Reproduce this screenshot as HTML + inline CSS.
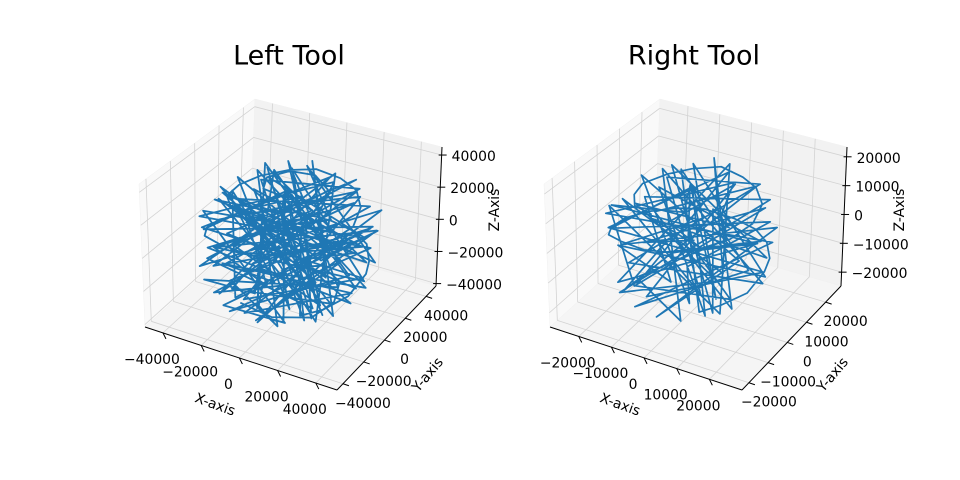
<!DOCTYPE html>
<html><head><meta charset="utf-8"><style>
html,body{margin:0;padding:0;background:#fff;}
svg{display:block;font-family:"DejaVu Sans","Liberation Sans",sans-serif;}
</style></head><body>
<svg id="chart" width="960" height="480" viewBox="0 0 960 480" xmlns="http://www.w3.org/2000/svg">
<rect width="960" height="480" fill="#fff"/>
</svg>
<script>
// ---- data (thousands) ----
const leftX=[12,-25,30,-8,-33,20,5,-28,35,-10,18,-30,8,-20,28,-5,33,-35,10,-15,25,-22,3,-38,30,-12,15,-25,36,-5,22,-30,0,-18,28,-35,12,-8,32,-20,5,-28,35,-15,20,-32,10,-3,30,-38,18,-22,25,-10,38,-30,8,-18,15,-35,28,-5,33,-25,0,-33,22,-12,35,-20,10,-28,30,-8,18,-38,25,-15,38,-25,5,-30,15,-10,32,-35,20,-18,28,-5,35,-28,12,-22,30,-38,8,-15,25,-30,0,36,-20,15,-33,22,-8,30,-25,10,-36,20,-12,38,-22,5,-30,28,-10,33,-18,15,-35,25,-5,30,-28,12,-38,20,
20,28,34,36,32,25,14,0,-14,-26,-34,-38,-36,-30,-18,-4,10,22,30,34,30,22,10,-4,-16,-26,-30,-28,-20,-8,6,16,20,16,6,-6,-12,-8,4,12,2,-10,-16,-10,4,18,24,20,8,-6];
const leftY=[-30,10,22,-35,5,-10,32,-20,-5,25,28,-15,-22,30,-25,10,12,-8,-38,-18,30,-30,20,12,-15,35,-5,22,8,-30,-28,25,38,-10,20,-18,15,-38,-18,28,-12,-28,15,20,-35,8,30,-25,28,-2,-20,35,-30,-15,0,15,-35,-32,35,22,-8,28,-25,-20,10,30,25,-38,10,5,-28,-5,-20,38,8,-15,32,-28,-12,28,-40,-25,20,15,-28,10,-15,38,15,-20,-10,18,38,-35,5,5,-25,25,-35,-10,30,18,-25,-30,-20,32,-5,-22,35,5,-12,25,-35,-5,15,-38,28,-12,32,22,-22,-40,0,15,-32,32,-32,-10,18,-25,
-25,-18,-5,8,18,28,35,38,35,28,16,2,-12,-24,-32,-36,-34,-28,-16,-2,12,22,28,30,26,18,6,-8,-18,-24,-24,-18,-6,6,12,10,0,-10,-12,-26,-20,-10,4,18,24,16,0,-14,-30,-34];
const leftZ=[20,-28,5,-15,18,-35,25,-12,15,-30,-18,25,33,8,-10,38,-20,-10,0,32,12,-20,-36,2,25,-8,-38,25,-5,28,18,-15,10,-35,-25,8,35,-8,-15,-25,40,15,12,-35,-12,25,-28,-33,0,-15,32,5,-20,38,10,-28,22,-18,15,-8,-30,32,5,30,-40,10,25,5,-22,35,-30,-30,22,-12,38,12,-15,-30,0,20,-5,-18,-35,38,-10,-20,35,-5,28,-38,18,-25,5,10,-30,15,35,-32,8,30,-30,8,-30,-25,20,-10,40,-20,-10,-40,-15,30,22,-12,33,-15,-18,30,25,-15,35,5,-25,-32,-25,10,-5,38,-5,28,
-22,-20,-18,-12,-12,-10,-10,-10,-8,-6,-4,0,4,8,12,14,16,18,20,22,24,26,26,26,24,22,22,24,26,28,28,30,32,34,36,36,36,36,36,-28,-34,-36,-34,-30,-28,-28,-28,-30,-24,-18];
const rightX=[10,-18,15,-5,-20,12,0,-15,20,-8,8,-18,5,-12,16,-3,18,-20,6,-8,14,-12,2,-21,16,-6,8,-14,20,-2,12,-16,0,-10,15,-19,6,-4,18,-11,3,-15,19,-8,11,-18,5,-2,17,-21,10,-12,14,-5,21,-16,4,-10,8,-19,15,-3,18,-14,0,-18,12,-6,19,-11,6,-15,17,-4,10,-21,14,-8,21,-13,
11,15,19,20,18,14,8,0,-8,-14,-19,-21,-20,-17,-10,-2,6,12,17,19,17,12,6,-2,-9,-14,-17,-15,-11,-4];
const rightY=[-15,5,12,-20,-8,-5,18,-12,0,15,18,-10,-12,18,-14,5,8,-4,-20,-10,16,-16,10,6,-8,20,-2,12,5,-16,-15,14,21,-6,12,-10,8,-21,-10,16,-6,-15,8,11,-19,4,16,-14,15,-1,-11,19,-16,-8,0,8,-19,-17,19,12,-4,15,-14,-11,5,16,14,-21,5,3,-15,-3,-11,21,4,-8,18,-15,-6,15,
-14,-10,-3,4,10,15,19,21,19,15,9,1,-7,-13,-18,-20,-19,-15,-9,-1,7,12,15,17,14,10,3,-4,-10,-13];
const rightZ=[12,-10,8,-5,10,-18,15,-12,5,-16,-10,12,18,4,-6,22,-12,-6,0,18,8,-12,-20,2,14,-4,-21,14,-3,16,10,-8,6,-19,-14,4,20,-4,-8,-14,22,8,7,-19,-6,14,-16,-18,0,-8,17,3,-11,21,6,-15,12,-10,9,-4,-16,18,3,16,-22,6,14,3,-12,19,-16,-16,12,-6,20,7,-8,-16,0,11,
-12,-11,-10,-7,-7,-6,-6,-6,-4,-3,-2,0,2,4,7,8,9,10,11,12,13,14,14,14,13,12,12,13,14,15];
const xTicks=[[-40000,-20000,0,20000,40000],[-20000,-10000,0,10000,20000]];
const yTicks=[[-40000,-20000,0,20000,40000],[-20000,-10000,0,10000,20000]];
const zTicks=[[-40000,-20000,0,20000,40000],[-20000,-10000,0,10000,20000]];
const titles=["Left Tool","Right Tool"];

const svg=document.getElementById('chart');
const NS='http://www.w3.org/2000/svg';
function mk(tag,attrs,parent){const e=document.createElementNS(NS,tag);for(const k in attrs)e.setAttribute(k,attrs[k]);(parent||svg).appendChild(e);return e;}
function fmt(v){return v<0?'\u2212'+Math.abs(v):String(v);}

const panels=[
 {dx:0,xr:[-49400,51100],yr:[-45700,49500],zr:[-41500,45000],xs:leftX,ys:leftY,zs:leftZ,name:'left',sw:1.8},
 {dx:405,xr:[-28800,30000],yr:[-23600,28000],zr:[-24800,23400],xs:rightX,ys:rightY,zs:rightZ,name:'right',sw:1.7}
];
const C0={'000':[145,327],'100':[337,390],'110':[436,286],'010':[250,232],'001':[139,184],'101':[341,240],'111':[442,147],'011':[255,99]};

panels.forEach((p,pi)=>{
 const g=mk('g',{});
 
 
 const c=k=>[C0[k][0]+p.dx,C0[k][1]];
 function P(x,y,z){
  const u=(x-p.xr[0])/(p.xr[1]-p.xr[0]),v=(y-p.yr[0])/(p.yr[1]-p.yr[0]),w=(z-p.zr[0])/(p.zr[1]-p.zr[0]);
  let sx=0,sy=0;
  for(const a of [0,1])for(const b of [0,1])for(const d of [0,1]){
   const wt=(a?u:1-u)*(b?v:1-v)*(d?w:1-w);const q=c(''+a+b+d);sx+=wt*q[0];sy+=wt*q[1];}
  return [sx,sy];
 }
 const [x0,x1]=p.xr,[y0,y1]=p.yr,[z0,z1]=p.zr;
 const poly=(pts,fill,nm)=>{const e=mk('polygon',{points:pts.map(q=>q.join(',')).join(' '),fill:fill,stroke:'#f0f0f0','stroke-width':0.5},g);};
 poly([P(x0,y0,z0),P(x0,y1,z0),P(x0,y1,z1),P(x0,y0,z1)],'#f9f9f9','x-pane');
 poly([P(x0,y1,z0),P(x1,y1,z0),P(x1,y1,z1),P(x0,y1,z1)],'#f2f2f2','y-pane');
 poly([P(x0,y0,z0),P(x1,y0,z0),P(x1,y1,z0),P(x0,y1,z0)],'#f5f5f5','floor-pane');
 const line=(a,b,st,sw,nm)=>{const e=mk('line',{x1:a[0],y1:a[1],x2:b[0],y2:b[1],stroke:st,'stroke-width':sw},g);return e;};
 const gc='#d3d3d3';
 xTicks[pi].forEach(t=>{line(P(t,y0,z0),P(t,y1,z0),gc,0.8,'grid-line');line(P(t,y1,z0),P(t,y1,z1),gc,0.8,'grid-line');});
 yTicks[pi].forEach(t=>{line(P(x0,t,z0),P(x1,t,z0),gc,0.8,'grid-line');line(P(x0,t,z0),P(x0,t,z1),gc,0.8,'grid-line');});
 zTicks[pi].forEach(t=>{line(P(x0,y0,t),P(x0,y1,t),gc,0.8,'grid-line');line(P(x0,y1,t),P(x1,y1,t),gc,0.8,'grid-line');});
 line(P(x0,y0,z0),P(x1,y0,z0),'#000',1,'x-axis-line');
 line(P(x1,y0,z0),P(x1,y1,z0),'#000',1,'y-axis-line');
 line(P(x1,y1,z0),P(x1,y1,z1),'#000',1,'z-axis-line');
 const txt=(s,x,y,anchor,nm,size,rot)=>{const e=mk('text',{x:x,y:y,'text-anchor':anchor,'font-size':size||13.9,fill:'#000','dominant-baseline':'central'},g);if(rot)e.setAttribute('transform','rotate('+rot+' '+x+' '+y+')');e.textContent=s;return e;};
 xTicks[pi].forEach(t=>{const q=P(t,y0,z0);line(q,[q[0]+3,q[1]+6],'#000',1,'x-tick');txt(fmt(t),q[0]-11,q[1]+27,'middle','x-tick-label');});
 yTicks[pi].forEach(t=>{const q=P(x1,t,z0);line(q,[q[0]+6,q[1]+2],'#000',1,'y-tick');txt(fmt(t),q[0]+20,q[1]+20,'middle','y-tick-label');});
 zTicks[pi].forEach(t=>{const q=P(x1,y1,t);line([q[0]-3,q[1]],[q[0]+5,q[1]],'#000',1,'z-tick');txt(fmt(t),q[0]+10,q[1]+2,'start','z-tick-label');});
 txt('X-axis',215+p.dx,405,'middle','x-axis-title',13.9,20);
 txt('Y-axis',428+p.dx,375,'middle','y-axis-title',13.9,-50);
 txt('Z-Axis',495+p.dx,210,'middle','z-axis-title',13.9,-90);
 txt(titles[pi],289+p.dx,56,'middle','chart-title',27);
 const pts=p.xs.map((v,i)=>P(v*1000,p.ys[i]*1000,p.zs[i]*1000));
 const pl=mk('polyline',{points:pts.map(q=>q[0].toFixed(1)+','+q[1].toFixed(1)).join(' '),fill:'none',stroke:'#1f77b4','stroke-width':p.sw,'stroke-linejoin':'round'},g);
 
 
});
</script>
</body></html>
